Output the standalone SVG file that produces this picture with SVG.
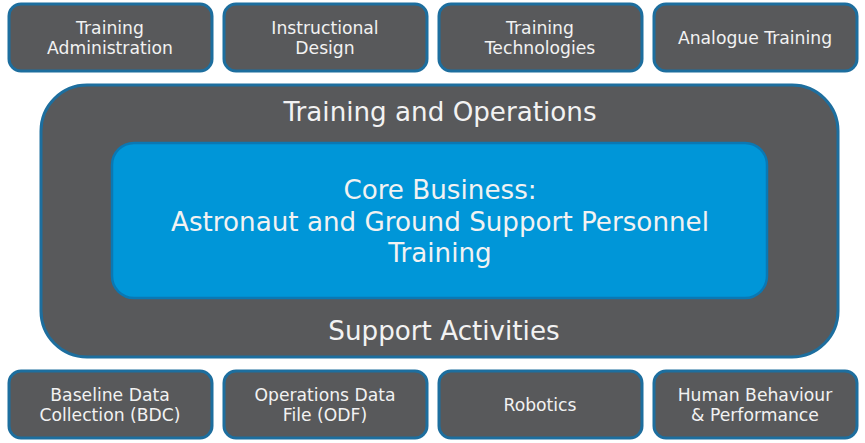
<svg xmlns="http://www.w3.org/2000/svg" width="865" height="443" viewBox="0 0 865 443">
<style>
.box{fill:#58595b;stroke:#1d6e9e;stroke-width:3}
.t{font-family:"DejaVu Sans",Verdana,sans-serif;fill:#f2f2f2;text-anchor:middle}
.s{font-size:17.2px}
.l{font-size:26.2px}
</style>
<rect width="865" height="443" fill="#ffffff"/>
<g id="outer">
<rect x="41" y="85" width="797" height="272" rx="46" class="box"/>
<text class="t l" x="440" y="121">Training and Operations</text>
<text class="t l" x="444" y="340">Support Activities</text>
</g>
<g id="core">
<rect x="112" y="143" width="655" height="155" rx="22" fill="#0096d8" stroke="#0a78b4" stroke-width="2.5"/>
<text class="t l" x="440" y="199">Core Business:</text>
<text class="t l" x="440" y="231">Astronaut and Ground Support Personnel</text>
<text class="t l" x="440" y="262">Training</text>
</g>
<g id="top1"><rect x="9" y="4" width="203" height="67" rx="12" class="box"/><text class="t s" x="110" y="34">Training</text><text class="t s" x="110" y="54">Administration</text></g>
<g id="top2"><rect x="224" y="4" width="203" height="67" rx="12" class="box"/><text class="t s" x="325" y="34">Instructional</text><text class="t s" x="325" y="54">Design</text></g>
<g id="top3"><rect x="439" y="4" width="203" height="67" rx="12" class="box"/><text class="t s" x="540" y="34">Training</text><text class="t s" x="540" y="54">Technologies</text></g>
<g id="top4"><rect x="654" y="4" width="203" height="67" rx="12" class="box"/><text class="t s" x="755" y="44">Analogue Training</text></g>
<g id="bot1"><rect x="9" y="371" width="203" height="67" rx="12" class="box"/><text class="t s" x="110" y="401">Baseline Data</text><text class="t s" x="110" y="421">Collection (BDC)</text></g>
<g id="bot2"><rect x="224" y="371" width="203" height="67" rx="12" class="box"/><text class="t s" x="325" y="401">Operations Data</text><text class="t s" x="325" y="421">File (ODF)</text></g>
<g id="bot3"><rect x="439" y="371" width="203" height="67" rx="12" class="box"/><text class="t s" x="540" y="411">Robotics</text></g>
<g id="bot4"><rect x="654" y="371" width="203" height="67" rx="12" class="box"/><text class="t s" x="755" y="401">Human Behaviour</text><text class="t s" x="755" y="421">&amp; Performance</text></g>
<g id="connectors"/>
</svg>
